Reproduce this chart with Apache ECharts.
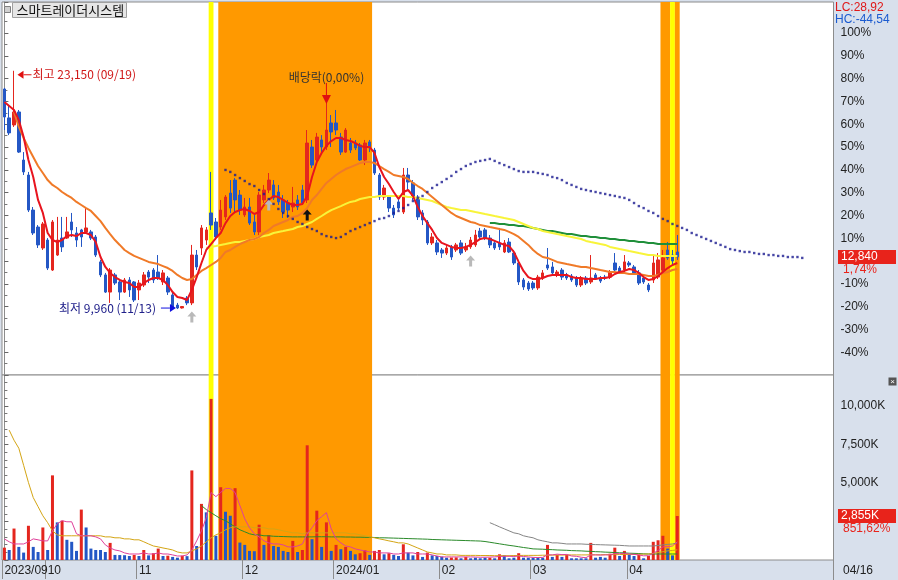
<!DOCTYPE html>
<html><head><meta charset="utf-8">
<script src="https://cdn.jsdelivr.net/npm/echarts@6/dist/echarts.min.js"></script>
<style>html,body{margin:0;padding:0;background:#fff}#c{width:898px;height:580px}</style>
</head><body><div id="c"></div>
<script>
// ---------------- DATA ----------------
const stockName = '스마트레이더시스템';
const prevClose = 12620;            // 0% line of the percent axis
const exDivLabel = '배당락(0,00%)';
const dates = [
 '2023/09/15','2023/09/18','2023/09/19','2023/09/20','2023/09/21','2023/09/22','2023/09/25','2023/09/26','2023/09/27',
 '2023/10/04','2023/10/05','2023/10/06','2023/10/10','2023/10/11','2023/10/12','2023/10/13','2023/10/16','2023/10/17','2023/10/18','2023/10/19','2023/10/20','2023/10/23','2023/10/24','2023/10/25','2023/10/26','2023/10/27','2023/10/30','2023/10/31',
 '2023/11/01','2023/11/02','2023/11/03','2023/11/06','2023/11/07','2023/11/08','2023/11/09','2023/11/10','2023/11/13','2023/11/14','2023/11/15','2023/11/16','2023/11/17','2023/11/20','2023/11/21','2023/11/22','2023/11/23','2023/11/24','2023/11/27','2023/11/28','2023/11/29','2023/11/30',
 '2023/12/01','2023/12/04','2023/12/05','2023/12/06','2023/12/07','2023/12/08','2023/12/11','2023/12/12','2023/12/13','2023/12/14','2023/12/15','2023/12/18','2023/12/19','2023/12/20','2023/12/21','2023/12/22','2023/12/26','2023/12/27','2023/12/28',
 '2024/01/02','2024/01/03','2024/01/04','2024/01/05','2024/01/08','2024/01/09','2024/01/10','2024/01/11','2024/01/12','2024/01/15','2024/01/16','2024/01/17','2024/01/18','2024/01/19','2024/01/22','2024/01/23','2024/01/24','2024/01/25','2024/01/26','2024/01/29','2024/01/30','2024/01/31',
 '2024/02/01','2024/02/02','2024/02/05','2024/02/06','2024/02/07','2024/02/08','2024/02/13','2024/02/14','2024/02/15','2024/02/16','2024/02/19','2024/02/20','2024/02/21','2024/02/22','2024/02/23','2024/02/26','2024/02/27','2024/02/28','2024/02/29',
 '2024/03/04','2024/03/05','2024/03/06','2024/03/07','2024/03/08','2024/03/11','2024/03/12','2024/03/13','2024/03/14','2024/03/15','2024/03/18','2024/03/19','2024/03/20','2024/03/21','2024/03/22','2024/03/25','2024/03/26','2024/03/27','2024/03/28','2024/03/29',
 '2024/04/01','2024/04/02','2024/04/03','2024/04/04','2024/04/05','2024/04/08','2024/04/09','2024/04/11','2024/04/12','2024/04/15','2024/04/16'
];
const futureSlots = 32;
// [open, close, low, high]
const ohlc = [
 [22140,20590,19870,22200],[20540,19710,19590,21260],[20150,20870,20040,23150],[20870,18650,18600,20980],[18210,17550,17380,18650],
 [17380,15440,15330,17550],[15440,14170,14060,15610],[14500,13510,13340,14610],[13340,14670,13230,14780],[13780,12230,12120,13890],
 [12120,14780,12070,14890],[12950,13780,12900,15060],[13890,13400,13120,15060],[13890,14230,13840,15060],[14780,14340,13950,15280],
 [14170,13780,13400,14500],[14340,13950,13400,14400],[14230,14450,14170,15550],[14230,13890,13780,14340],[13950,12950,12840,14060],
 [12570,11850,11730,12680],[11850,10900,10850,11960],[10900,12120,10300,12230],[11850,11400,11290,11960],[11460,10900,10460,11570],
 [10900,11570,10850,11680],[11570,11020,10630,11730],[11460,10460,10350,11510],[11020,11400,10460,11570],[11290,11850,11180,12010],
 [12010,11730,11400,12120],[12120,11570,11400,12230],[12010,11680,11570,12950],[11460,11960,11290,12120],[11680,10900,10740,11790],
 [10740,10070,9990,10850],[10180,10020,9960,10300],[10020,10100,9990,10130],[10570,10300,10180,10680],[10300,12950,10180,13510],
 [12950,12290,12120,13230],[13340,14450,12950,14610],[13780,14340,13510,14500],[15280,14610,14340,17550],[14780,13950,13780,15000],
 [14500,15440,14340,16000],[15060,16160,14890,16270],[16380,15550,15280,17100],[17100,16000,15280,17210],[16270,15440,15170,16550],
 [15170,15610,15060,16110],[15610,14720,14610,16110],[14780,14230,14060,15170],[14230,16270,14060,16440],[16000,16550,15830,16830],
 [16550,17100,16380,17490],[16830,16110,16000,17100],[16440,15890,15720,16830],[16000,15330,15000,16270],[15830,15440,15000,16000],
 [15610,15830,15330,16720],[16000,15610,15440,16270],[16550,15830,15720,16830],[16000,19150,15830,19870],[18930,17930,17770,19320],
 [18210,19480,18040,19710],[19320,18930,18650,19590],[18930,19870,18760,21370],[20260,19760,18930,20700],[20260,19870,19590,20980],
 [19480,18650,18490,19710],[18650,19870,18600,19980],[19150,18760,18600,19430],[19150,18880,18760,19320],[19040,18210,18160,19150],
 [18210,19150,17930,19320],[19210,18880,18650,19320],[18760,17490,17380,18880],[17380,16160,16000,17490],[16160,16660,16000,16830],
 [16160,15550,15330,16270],[15550,15170,15000,15720],[15890,15550,15440,16110],[15330,17380,15220,17770],[17380,16990,16550,17770],
 [16940,16160,16000,17100],[16160,15060,14890,16270],[15280,14890,14610,15440],[14780,13620,13510,14890],[13620,13950,13510,14170],
 [13620,13120,12950,13780],[13230,13060,12790,13340],[13060,13340,12950,13510],[13400,12840,12680,13510],[13230,13510,13120,13620],
 [13620,13060,12950,13780],[13230,13400,13120,13620],[13400,13780,13290,13950],[13510,14060,13400,14340],[14280,13950,13780,14450],
 [14340,13890,13780,14450],[13890,13510,13340,14060],[13620,13340,13230,13780],[13620,13400,13230,14450],[13120,13620,13060,13780],
 [13670,13120,13060,13890],[13060,12510,12400,13230],[12510,11460,11290,12680],[11570,11180,11020,11680],[11400,11070,10960,11510],
 [11400,11130,11020,11510],[11130,11730,11020,11850],[11680,11960,11570,12120],[12400,12230,12120,13340],[12290,11960,11790,12570],
 [11850,12010,11730,12120],[12120,11730,11570,12230],[11850,11680,11570,11960],[11790,11570,11460,11900],[11680,11290,11180,11790],
 [11290,11680,11180,11790],[11680,11400,11290,11790],[11460,11680,11350,12950],[11850,11680,11570,11960],[11680,11510,11400,11790],
 [11730,11680,11570,11850],[11730,12010,11620,12120],[12510,12120,12010,13060],[12230,12010,11900,12340],[12120,12570,12010,12950],
 [12510,12400,12290,12620],[12290,11960,11850,12400],[11960,11400,11290,12120],[11680,11460,11350,11790],[11290,11020,10900,11400],
 [11570,12510,11400,12950],[11730,12680,11620,13060],[12120,12790,12010,13230],[13230,12790,12680,13670],[12950,12620,12400,13230],
 [13120,12840,12680,14060]
];
const ma5 = [21420,21200,20980,20420,19480,18210,17270,16000,15280,14170,13780,13670,13780,14000,14060,14000,14170,14170,14060,13670,
 12840,12290,11960,11730,11570,11460,11400,11180,11180,11400,11570,11680,11680,11570,11290,10900,10630,10570,10460,11020,
 11730,12510,13230,13560,13890,14170,14720,15110,15330,15440,15500,15390,15220,15330,15720,16000,16220,16160,16000,15830,
 15720,15720,15780,16220,17270,18100,18600,18990,19260,19430,19430,19320,19260,19150,18990,18930,18930,18600,17820,17270,
 16880,16440,16050,16440,16550,16220,15610,15110,14720,14340,13890,13620,13510,13400,13340,13340,13400,13510,13670,13840,
 13890,13840,13730,13620,13510,13450,13120,12570,12070,11730,11620,11620,11680,11790,11850,11850,11850,11850,11730,11680,
 11680,11620,11620,11620,11680,11680,11730,11900,12010,12070,12180,12120,11960,11730,11570,11620,11790,12010,12230,12400,12510];
const ma20Start = 2;
const ma20 = [20870,20040,19430,18880,18380,17880,17490,17100,
 16830,16660,16440,16270,16110,15890,15720,15550,15390,15110,14830,14450,14110,13780,13510,13230,13060,12900,12790,12680,
 12570,12510,12450,12340,12230,12070,11850,11680,11570,11620,11850,12070,12230,12400,12570,12790,13120,13230,13400,13560,
 13670,13780,13840,13950,14170,14340,14560,14670,14780,14890,15060,15110,15280,15550,16000,16270,16610,16940,17160,17380,
 17550,17710,17820,17930,18040,18100,18100,18040,17880,17710,17550,17380,17330,17270,17160,16940,16770,16610,16380,16160,
 15940,15720,15500,15280,15110,15000,14890,14780,14720,14610,14560,14500,14450,14390,14340,14230,14110,13950,13730,13510,
 13230,13010,12840,12790,12680,12570,12510,12450,12400,12340,12290,12290,12230,12180,12120,12070,12010,12010,11960,11960,
 11900,11900,11900,11850,11790,11790,11850,11960,12010,12120,12180];
const ma60Start = 42;
const ma60 = [13340,13400,13450,13510,13560,13620,13670,13670,
 13730,13780,13840,13950,14000,14060,14170,14230,14280,14340,14390,14500,14560,14670,14780,14950,15110,15280,15440,15550,
 15660,15780,15890,15940,16050,16110,16160,16160,16220,16220,16220,16220,16220,16220,16160,16160,16110,16050,16000,15940,
 15830,15720,15610,15550,15500,15440,15440,15390,15330,15280,15220,15170,15110,15060,15000,14950,14890,14780,14670,14560,
 14450,14390,14280,14230,14170,14110,14060,14000,13950,13890,13840,13730,13670,13620,13560,13510,13400,13340,13280,13230,
 13170,13120,13060,13010,12950,12950,12900,12900,12900,12900,12900];
const ma120Start = 101;
const ma120 = [14720,14720,14670,14670,14610,14610,14560,14560,14500,
 14450,14390,14340,14280,14280,14230,14170,14110,14110,14060,14000,14000,13950,13950,13890,13890,13840,13840,13780,13780,
 13730,13730,13670,13670,13620,13620,13560,13560,13560,13560,13560];
const leadStart = 46;
const leadSpan = [17660,17550,17380,17210,17050,16880,16770,16550,16330,16050,
 15780,15500,15280,15110,14950,14780,14670,14500,14390,14280,14110,14000,13950,13890,13950,14110,14280,14390,14500,14610,
 14720,14830,14950,15000,15110,15280,15390,15550,15720,15940,16110,16220,16440,16660,16830,16990,17160,17330,17550,17710,
 17880,17990,18100,18160,18210,18270,18160,18040,17930,17820,17710,17600,17550,17550,17550,17490,17440,17380,17270,17210,
 17100,16940,16830,16720,16610,16550,16490,16440,16380,16330,16270,16220,16160,16110,16000,15830,15660,15550,15390,15280,
 15110,14950,14830,14670,14560,14450,14340,14170,14060,13950,13840,13730,13620,13510,13400,13280,13230,13170,13120,13120,
 13060,13010,13010,12950,12950,12900,12900,12840,12840,12840,12790];
// volume in thousands of shares; volUp: 1 = red bar, 0 = blue bar
const volume = [800,650,2040,850,480,2220,850,520,2110,650,5490,2440,2550,1310,1180,590,3270,2110,740,650,
 650,520,1110,330,320,310,260,330,260,650,300,440,740,260,280,200,150,280,250,5810,
 910,3640,3090,10450,1570,4720,3130,2870,4660,1130,980,590,570,2290,980,1610,910,850,590,520,
 1240,520,650,7440,1350,3200,850,2440,590,980,700,850,590,370,440,630,330,590,650,370,
 440,330,260,1020,480,300,520,200,480,300,260,220,150,160,170,110,200,110,150,110,
 150,150,110,370,300,110,150,440,150,150,150,150,150,980,200,330,200,330,110,110,
 110,110,1110,150,200,150,410,800,260,590,370,260,330,110,260,1180,1280,1570,740,300.057,2855.4];
const volUp = [1,0,1,0,0,1,0,0,1,0,1,0,1,0,0,0,1,0,0,0,0,0,1,0,0,0,0,1,0,1,0,1,1,0,1,0,0,1,0,1,
 0,1,0,1,0,1,0,0,1,0,0,0,0,1,0,1,0,0,0,0,1,0,1,1,0,1,0,1,0,1,0,1,0,0,1,1,0,1,1,0,
 1,0,0,1,0,0,1,0,1,0,0,0,0,1,1,0,1,0,0,0,0,1,0,1,0,0,0,1,0,0,0,0,0,1,0,1,0,1,0,0,
 0,0,1,0,0,0,1,1,0,1,0,0,1,0,1,1,1,1,0,0,1];
const volMa5 = [1370,1180,1040,1040,1040,1180,1370,1310,1240,1240,1890,2350,2550,2480,2480,1700,1570,1570,1570,1500,
 1370,980,780,650,590,460,390,390,390,460,390,390,460,390,390,330,260,260,330,650,
 1240,1890,2740,4380,4110,4380,4640,4640,4380,3530,2680,2090,1700,1500,1240,1110,1040,1040,980,850,
 850,910,1040,1700,2090,2550,2810,3070,2020,1370,1110,910,850,720,650,590,520,520,460,460,
 460,390,390,460,460,460,390,390,390,330,260,200,200,200,200,200,200,200,190,180,
 180,190,200,230,240,240,230,250,230,200,170,160,170,340,330,380,350,360,260,240,
 180,150,330,330,320,330,330,420,410,430,390,360,330,270,280,430,620,850,870,910,1180];
const volMa20Start = 1;
const volMa20 = [8420,7770,7250,6140,5030,4050,3460,2870,2420,
 1890,1630,1570,1570,1570,1570,1570,1570,1570,1570,1570,1500,1500,1440,1440,1370,1370,1310,1310,1180,
 1040,910,850,780,720,650,520,460,460,590,720,910,1180,1440,1630,1760,1960,2090,2150,2150,
 2150,2150,2090,2090,2090,2020,2020,1960,1890,1830,1760,1760,1700,1760,1760,1760,1760,1760,1760,1760,
 1760,1760,1700,1700,1630,1570,1500,1440,1370,1310,1240,1180,1110,1110,1040,910,780,650,520,460,
 390,390,330,330,330,300,300,300,300,290,290,290,280,280,280,280,290,290,300,300,
 300,300,310,310,320,320,320,330,330,330,330,330,340,340,340,350,350,350,350,360,
 360,360,370,380,390,430,480,540,590,620,660];
const volMa60Start = 41;
const volMa60 = [3530,3270,3070,2870,2680,2550,2350,2150,1960,
 1830,1700,1630,1630,1570,1570,1540,1530,1520,1510,1500,1500,1500,1500,1500,1510,1510,1510,1500,1500,
 1500,1490,1490,1480,1480,1470,1470,1460,1440,1440,1430,1420,1410,1400,1390,1380,1370,1360,1350,1330,
 1320,1310,1300,1290,1280,1270,1260,1250,1240,1230,1200,1150,1100,1050,1000,950,910,860,810,770,
 720,710,700,680,670,650,640,630,610,600,590,570,560,540,530,510,500,480,470,460,
 440,430,420,400,390,390,390,390,390,390,390];
const volMa120Start = 101;
const volMa120 = [2420,2290,2150,2020,1890,1760,1700,1570,1500,
 1440,1310,1240,1180,1110,1110,1080,1040,1040,1040,1040,1020,1010,1000,990,980,970,960,950,930,
 910,910,910,910,910,910,940,980,1010,1040,1110];
// highlighted periods: [first index, last index, kind 0=orange 1=yellow]
const bands = [[43,43,1],[45,76,0],[137,138,0],[139,139,1],[140,140,0]];
const graySignals = [39,55,97];
const blackSignals = [63];
const exDivIndex = 67;

// ---------------- BUILD ----------------
const N = dates.length + futureSlots;
const cats = dates.concat(Array.from({length: futureSlots}, (_, k) => '+' + (k + 1)));
const pad = (start, arr) => { const o = new Array(N).fill(null); arr.forEach((v, k) => { o[start + k] = v; }); return o; };
const monthStart = cats.map((c, i) => i < dates.length && (i === 0 || c.slice(0, 7) !== cats[i - 1].slice(0, 7)));
const monthLabel = i => (i === 0 || cats[i].slice(0, 4) !== cats[i - 1].slice(0, 4)) ? cats[i].slice(0, 7) : cats[i].slice(5, 7);

const RED = '#e4261e', BLUE = '#2457c5';
const FN = '"Liberation Sans", Arial, sans-serif';
const FK = '"Noto Sans CJK KR", sans-serif';
const fmt = n => Math.round(n).toLocaleString('en-US');
const pctStr = v => v.toFixed(2).replace('.', ',');

const G = [{left: 2, top: 2, width: 831.5, height: 373}, {left: 2, top: 375, width: 831.5, height: 185}];
const grid = G.map(g => Object.assign({show: true, backgroundColor: '#fff', borderColor: '#8c8c8c', borderWidth: 1, containLabel: false, outerBoundsMode: 'none'}, g));

const bandSeries = (xi, yi) => ({
  type: 'custom', xAxisIndex: xi, yAxisIndex: yi, silent: true, z: 0,
  data: bands,
  renderItem: (params, api) => {
    const a = api.coord([api.value(0) - 0.5, 0]);
    const b = api.coord([api.value(1) + 0.5, 0]);
    const cs = params.coordSys;
    return {type: 'rect', shape: {x: a[0], y: cs.y, width: b[0] - a[0], height: cs.height},
            style: {fill: api.value(2) === 1 ? '#ffff00' : '#ff9900'}};
  }
});
const lineS = (data, color, w, xi, yi, z) => ({type: 'line', data, xAxisIndex: xi, yAxisIndex: yi, showSymbol: false, symbol: 'none',
  silent: true, z: z || 4, lineStyle: {color, width: w}, itemStyle: {color}});

const arrowPath = 'path://M4.5,0 L9,5 L6,5 L6,11 L3,11 L3,5 L0,5 Z';
const signalPts = graySignals.map(i => ({coord: [cats[i], ohlc[i][2]], symbolOffset: [0, 12], itemStyle: {color: '#b9b9b9'}}))
  .concat(blackSignals.map(i => ({coord: [cats[i], ohlc[i][2]], symbolOffset: [0, 12], itemStyle: {color: '#111'}})));

const option = {
  animation: false,
  backgroundColor: '#d8e0ec',
  grid,
  xAxis: [
    {type: 'category', gridIndex: 0, data: cats, show: false, boundaryGap: true},
    {type: 'category', gridIndex: 1, data: cats, boundaryGap: true,
     axisLine: {show: false},
     axisTick: {show: true, length: 19, interval: i => monthStart[i], lineStyle: {color: '#8c8c8c'}},
     axisLabel: {show: true, interval: i => monthStart[i], formatter: (v, i) => monthLabel(i), align: 'left',
                 margin: 5, color: '#222', fontSize: 12, fontFamily: FN}},
    {type: 'value', gridIndex: 0, min: -0.5, max: N - 0.5, show: false},
    {type: 'value', gridIndex: 1, min: -0.5, max: N - 0.5, show: false}
  ],
  yAxis: [
    {type: 'value', gridIndex: 0, position: 'right', min: prevClose * 0.5, max: prevClose * 2.136, interval: prevClose / 10,
     splitLine: {show: false},
     axisLine: {show: true, lineStyle: {color: '#8c8c8c'}},
     axisTick: {show: true, length: 4, lineStyle: {color: '#666'}},
     minorTick: {show: true, splitNumber: 2, length: 3, lineStyle: {color: '#777'}},
     axisLabel: {margin: 7, color: '#222', fontSize: 12, fontFamily: FN,
       formatter: v => { const p = Math.round((v / prevClose - 1) * 100); return (p >= -40 && p <= 100 && p !== 0) ? p + '%' : ''; }}},
    {type: 'value', gridIndex: 1, position: 'right', min: 0, max: 12000, interval: 2500,
     splitLine: {show: false},
     axisLine: {show: true, lineStyle: {color: '#8c8c8c'}},
     axisTick: {show: true, length: 4, lineStyle: {color: '#666'}},
     minorTick: {show: true, splitNumber: 5, length: 3, lineStyle: {color: '#777'}},
     axisLabel: {margin: 7, color: '#222', fontSize: 12, fontFamily: FN,
       formatter: v => (v < 5000 || v > 10000) ? '' : fmt(v) + 'K'}}
  ],
  series: [
    bandSeries(2, 0),
    bandSeries(3, 1),
    {type: 'candlestick', xAxisIndex: 0, yAxisIndex: 0, data: ohlc, barWidth: 3, z: 3, silent: true,
     itemStyle: {color: RED, color0: BLUE, borderColor: RED, borderColor0: BLUE, borderWidth: 1},
     markPoint: {symbol: arrowPath, symbolSize: [9, 11], label: {show: false}, silent: true, data: signalPts}},
    lineS(pad(ma120Start, ma120), '#1f8f3a', 2, 0, 0),
    lineS(pad(ma60Start, ma60), '#f8f43a', 2, 0, 0),
    lineS(pad(ma20Start, ma20), '#f07a28', 2, 0, 0),
    lineS(ma5, '#e8141e', 2, 0, 0),
    {type: 'scatter', xAxisIndex: 0, yAxisIndex: 0, symbol: 'rect', symbolSize: [2.4, 2.4], silent: true, z: 5,
     itemStyle: {color: '#1a1a90'}, data: leadSpan.map((v, k) => [leadStart + k, v])},
    {type: 'bar', xAxisIndex: 1, yAxisIndex: 1, barWidth: 3, z: 3, silent: true,
     data: volume.map((v, i) => ({value: v, itemStyle: {color: volUp[i] ? RED : BLUE}}))},
    lineS(pad(volMa120Start, volMa120), '#858585', 1, 1, 1),
    lineS(pad(volMa60Start, volMa60), '#2a8a2a', 1, 1, 1),
    lineS(pad(volMa20Start, volMa20), '#d4a514', 1, 1, 1),
    lineS(volMa5, '#e0409a', 1, 1, 1)
  ]
};

const chart = echarts.init(document.getElementById('c'), null, {renderer: 'canvas'});
chart.setOption(option);

// ---------------- ANNOTATIONS ----------------
const px = (i, v) => chart.convertToPixel({xAxisIndex: 0, yAxisIndex: 0}, [i, v]);
const pv = (i, v) => chart.convertToPixel({xAxisIndex: 1, yAxisIndex: 1}, [i, v]);
const T = (x, y, text, fill, font, align) => ({type: 'text', x, y, z: 100, silent: true,
  style: {text, fill, font, align: align || 'left', verticalAlign: 'middle', textAlign: align || 'left', textVerticalAlign: 'middle'}});
const R = (x, y, w, h, fill, stroke) => ({type: 'rect', z: 99, silent: true, shape: {x, y, width: w, height: h},
  style: {fill, stroke: stroke || null, lineWidth: stroke ? 1 : 0}});
const P = (pts, fill) => ({type: 'polygon', z: 100, silent: true, shape: {points: pts}, style: {fill}});
const L = (x1, y1, x2, y2, stroke) => ({type: 'line', z: 100, silent: true, shape: {x1, y1, x2, y2}, style: {stroke, lineWidth: 1}});

let hi = 0, lo = 0;
ohlc.forEach((d, i) => { if (d[3] > ohlc[hi][3]) hi = i; if (d[2] < ohlc[lo][2]) lo = i; });
const last = dates.length - 1;
const lastClose = ohlc[last][1];
const els = [];

// title
els.push(R(4.5, 6.5, 6, 6, '#d0d0d0', '#808080'));
els.push(R(12.5, 2.5, 114, 15, '#e6e6e6', '#a0a0a0'));
els.push(T(16.5, 10.5, stockName, '#111', '13px ' + FK));

// highest
const h = px(hi, ohlc[hi][3]);
const ay = h[1] + 4, tip = h[0] + 3.5;
els.push(P([[tip, ay], [tip + 6, ay - 4], [tip + 6, ay + 4]], '#e01010'));
els.push(L(tip + 6, ay, tip + 14, ay, '#e01010'));
els.push(T(tip + 15, ay, '최고 ' + fmt(ohlc[hi][3]) + ' (' + dates[hi].slice(5) + ')', '#d01818', '12px ' + FK));

// lowest
const l = px(lo, ohlc[lo][2]);
const ly = l[1] - 1, ltip = l[0] - 1.5;
els.push(P([[ltip, ly], [ltip - 6, ly - 4], [ltip - 6, ly + 4]], '#1010e0'));
els.push(L(ltip - 6, ly, ltip - 15, ly, '#1010e0'));
els.push(T(ltip - 20, ly, '최저 ' + fmt(ohlc[lo][2]) + ' (' + dates[lo].slice(5) + ')', '#20208a', '12px ' + FK, 'right'));

// ex-dividend
const e = px(exDivIndex, ohlc[exDivIndex][3]);
els.push(L(e[0], e[1] - 20, e[0], e[1] - 7, '#e01010'));
els.push(P([[e[0] - 4.5, e[1] - 8], [e[0] + 4.5, e[1] - 8], [e[0], e[1] + 1]], '#e01010'));
els.push(T(e[0], e[1] - 25, exDivLabel, '#333', '12px ' + FK, 'center'));

// right axis: LC / HC
const lc = (lastClose / ohlc[lo][2] - 1) * 100, hc = (lastClose / ohlc[hi][3] - 1) * 100;
els.push(T(835, 8, 'LC:' + pctStr(lc), '#e01818', '12px ' + FN));
els.push(T(835, 20, 'HC:' + pctStr(hc), '#1b5bd0', '12px ' + FN));

// current price box
const c = px(last, lastClose);
els.push(R(838, c[1] - 7, 58, 14, '#e8231b'));
els.push(T(841, c[1], fmt(lastClose), '#fff', '12px ' + FN));
els.push(T(843, c[1] + 13, pctStr((lastClose / prevClose - 1) * 100) + '%', '#e8231b', '12px ' + FN));

// volume box
const vLast = volume[last], vPrev = volume[last - 1];
const v = pv(last, vLast);
els.push(R(838, v[1] - 7, 58, 14, '#e8231b'));
els.push(T(841, v[1], fmt(vLast) + 'K', '#fff', '12px ' + FN));
els.push(T(843, v[1] + 13, pctStr((vLast / vPrev - 1) * 100) + '%', '#e8231b', '12px ' + FN));

// volume panel close icon
els.push(R(888.5, 377.5, 8, 8, '#555'));
els.push(T(892.5, 381.5, '×', '#fff', '8px ' + FN, 'center'));

// last date label in bottom-right strip
els.push(L(833.5, 560, 833.5, 580, '#8c8c8c'));
els.push(T(843, 570.5, dates[last].slice(5), '#222', '12px ' + FN));

chart.setOption({graphic: {elements: els}});
</script>
</body></html>
